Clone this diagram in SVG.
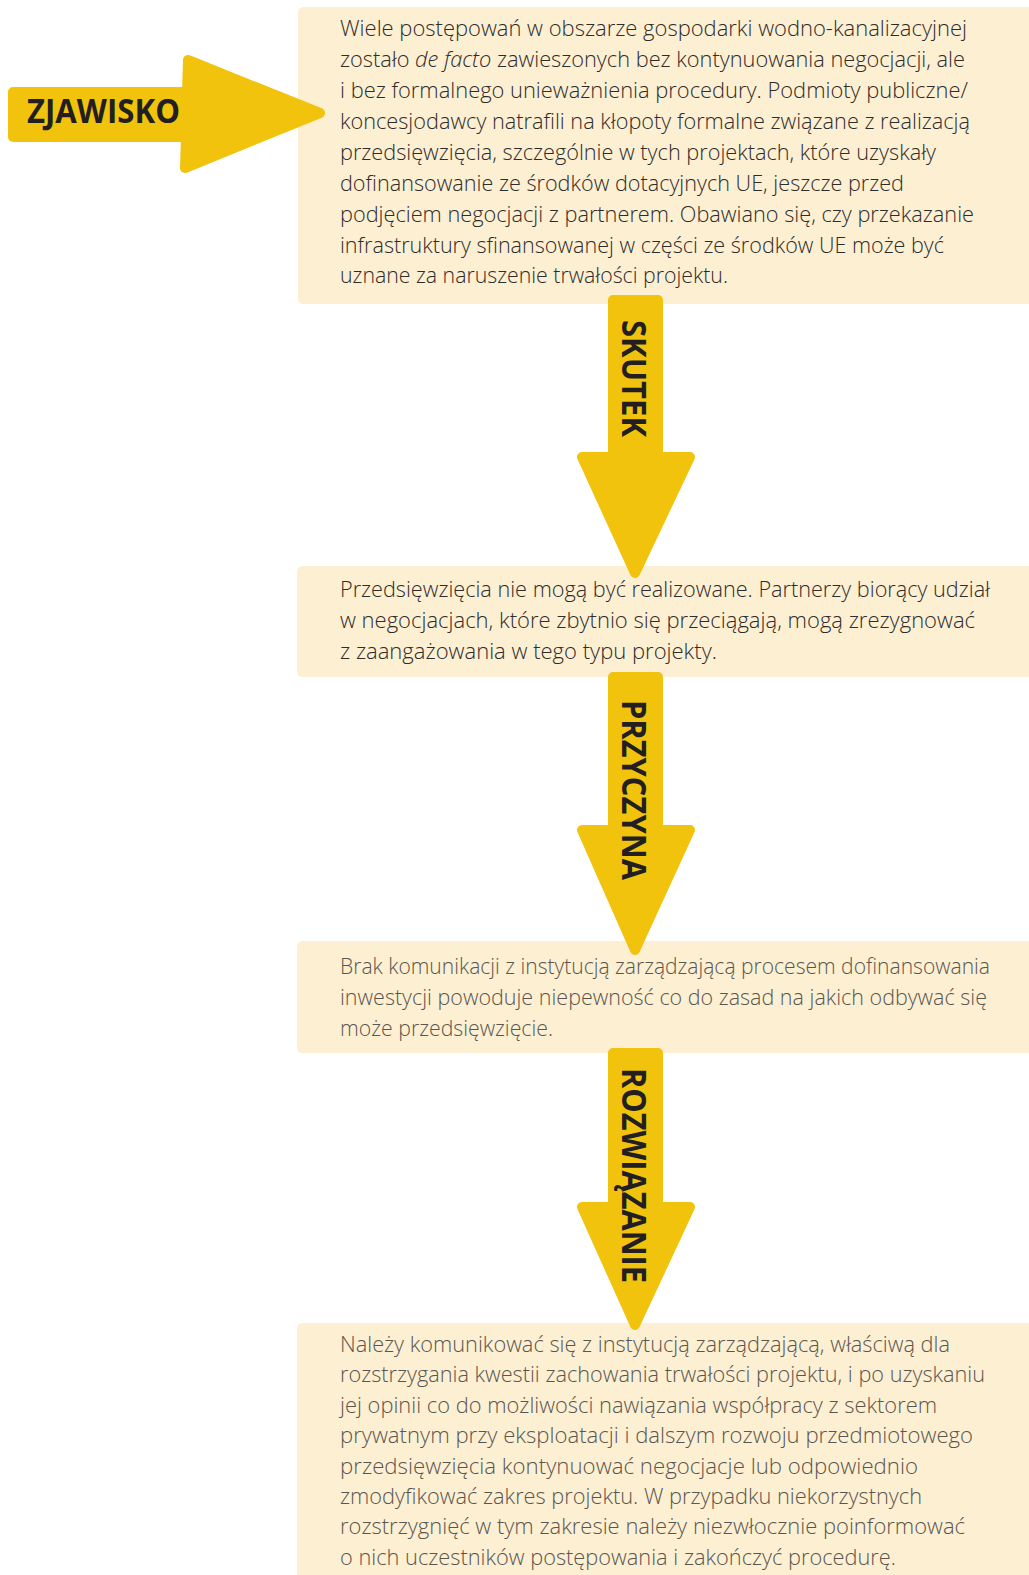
<svg xmlns="http://www.w3.org/2000/svg" width="1029" height="1575" viewBox="0 0 1029 1575">
<style>
.box{fill:#fdefd2}
.arrow{fill:#f1c30d;stroke:#f1c30d;stroke-width:10;stroke-linejoin:round}
.t{font-family:"Open Sans","Liberation Sans",sans-serif;font-weight:300;font-size:22.5px}
.d{fill:#2e2c2b}
.g{fill:#5a564f}
.lbl{font-family:"Open Sans","Liberation Sans",sans-serif;font-weight:700;font-size:34px;fill:#231f20}
</style>
<rect width="1029" height="1575" fill="#ffffff"/>
<g id="box1">
<path class="box" d="M1029,7 H304 Q298,7 298,13 V298 Q298,304 304,304 H1029 Z"/>
<text class="t d" x="340" y="36" textLength="627" lengthAdjust="spacingAndGlyphs">Wiele postępowań w obszarze gospodarki wodno-kanalizacyjnej</text>
<text class="t d" x="340" y="67" textLength="625" lengthAdjust="spacingAndGlyphs">zostało <tspan font-style="italic">de facto</tspan> zawieszonych bez kontynuowania negocjacji, ale</text>
<text class="t d" x="340" y="98" textLength="628" lengthAdjust="spacingAndGlyphs">i bez formalnego unieważnienia procedury. Podmioty publiczne/</text>
<text class="t d" x="340" y="129" textLength="630" lengthAdjust="spacingAndGlyphs">koncesjodawcy natrafili na kłopoty formalne związane z realizacją</text>
<text class="t d" x="340" y="160" textLength="596" lengthAdjust="spacingAndGlyphs">przedsięwzięcia, szczególnie w tych projektach, które uzyskały</text>
<text class="t d" x="340" y="191" textLength="564" lengthAdjust="spacingAndGlyphs">dofinansowanie ze środków dotacyjnych UE, jeszcze przed</text>
<text class="t d" x="340" y="222" textLength="634" lengthAdjust="spacingAndGlyphs">podjęciem negocjacji z partnerem. Obawiano się, czy przekazanie</text>
<text class="t d" x="340" y="253" textLength="604" lengthAdjust="spacingAndGlyphs">infrastruktury sfinansowanej w części ze środków UE może być</text>
<text class="t d" x="340" y="283" textLength="388" lengthAdjust="spacingAndGlyphs">uznane za naruszenie trwałości projektu.</text>
</g>
<g id="box2">
<path class="box" d="M1029,566 H303 Q297,566 297,572 V671 Q297,677 303,677 H1029 Z"/>
<text class="t d" x="340" y="597" textLength="650" lengthAdjust="spacingAndGlyphs">Przedsięwzięcia nie mogą być realizowane. Partnerzy biorący udział</text>
<text class="t d" x="340" y="628" textLength="635" lengthAdjust="spacingAndGlyphs">w negocjacjach, które zbytnio się przeciągają, mogą zrezygnować</text>
<text class="t d" x="340" y="659" textLength="377" lengthAdjust="spacingAndGlyphs">z zaangażowania w tego typu projekty.</text>
</g>
<g id="box3">
<path class="box" d="M1029,941 H303 Q297,941 297,947 V1047 Q297,1053 303,1053 H1029 Z"/>
<text class="t g" x="340" y="974" font-size="21.5" textLength="650" lengthAdjust="spacingAndGlyphs" style="font-size:21.5px">Brak komunikacji z instytucją zarządzającą procesem dofinansowania</text>
<text class="t g" x="340" y="1005" textLength="647" lengthAdjust="spacingAndGlyphs">inwestycji powoduje niepewność co do zasad na jakich odbywać się</text>
<text class="t g" x="340" y="1036" textLength="213" lengthAdjust="spacingAndGlyphs">może przedsięwzięcie.</text>
</g>
<g id="box4">
<path class="box" d="M1029,1323 H303 Q297,1323 297,1329 V1575 H1029 Z"/>
<text class="t g" x="340" y="1352" textLength="610" lengthAdjust="spacingAndGlyphs">Należy komunikować się z instytucją zarządzającą, właściwą dla</text>
<text class="t g" x="340" y="1382" textLength="645" lengthAdjust="spacingAndGlyphs">rozstrzygania kwestii zachowania trwałości projektu, i po uzyskaniu</text>
<text class="t g" x="340" y="1413" textLength="597" lengthAdjust="spacingAndGlyphs">jej opinii co do możliwości nawiązania współpracy z sektorem</text>
<text class="t g" x="340" y="1443" textLength="633" lengthAdjust="spacingAndGlyphs">prywatnym przy eksploatacji i dalszym rozwoju przedmiotowego</text>
<text class="t g" x="340" y="1474" textLength="578" lengthAdjust="spacingAndGlyphs">przedsięwzięcia kontynuować negocjacje lub odpowiednio</text>
<text class="t g" x="340" y="1504" textLength="582" lengthAdjust="spacingAndGlyphs">zmodyfikować zakres projektu. W przypadku niekorzystnych</text>
<text class="t g" x="340" y="1534" textLength="625" lengthAdjust="spacingAndGlyphs">rozstrzygnięć w tym zakresie należy niezwłocznie poinformować</text>
<text class="t g" x="340" y="1565" textLength="556" lengthAdjust="spacingAndGlyphs">o nich uczestników postępowania i zakończyć procedurę.</text>
</g>
<g id="connectors">
<g id="arrow-zjawisko">
<polygon class="arrow" points="13,92 187,92 188,60 320,113 185,168 186,137 13,137"/>
<text class="lbl" x="27" y="123" textLength="153" lengthAdjust="spacingAndGlyphs">ZJAWISKO</text>
</g>
<g id="arrow-skutek">
<polygon class="arrow" points="613,300 658,300 658,457 690,457 635,573 582,457 613,457"/>
<text class="lbl" transform="translate(622,378.5) rotate(90)" text-anchor="middle" x="0" y="0" textLength="117" lengthAdjust="spacingAndGlyphs">SKUTEK</text>
</g>
<g id="arrow-przyczyna">
<polygon class="arrow" points="613,677 658,677 658,830 690,830 635,950 582,830 613,830"/>
<text class="lbl" transform="translate(622,790) rotate(90)" text-anchor="middle" x="0" y="0" textLength="180" lengthAdjust="spacingAndGlyphs">PRZYCZYNA</text>
</g>
<g id="arrow-rozwiazanie">
<polygon class="arrow" points="613,1053 658,1053 658,1207 690,1207 635,1325 582,1207 613,1207"/>
<text class="lbl" transform="translate(622,1175.5) rotate(90)" text-anchor="middle" x="0" y="0" textLength="215" lengthAdjust="spacingAndGlyphs">ROZWIĄZANIE</text>
</g>
</g>
</svg>
